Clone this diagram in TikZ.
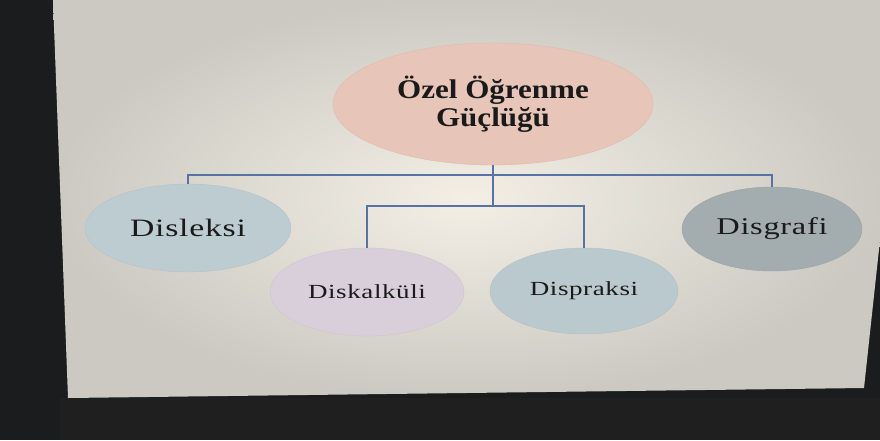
\documentclass[tikz,border=0pt]{standalone}
\usepackage{fontspec}
\usetikzlibrary{shapes.geometric}
\setmainfont{Liberation Serif}
\newfontfamily\titlefont[FakeStretch=1.15]{Liberation Serif}
\newfontfamily\labfont[FakeStretch=1.35,LetterSpace=3]{Liberation Serif}
\definecolor{bgdark}{HTML}{1A1C1E}
\definecolor{scrin}{HTML}{F3EFE5}
\definecolor{scrout}{HTML}{CCC9C2}
\definecolor{ctop}{HTML}{E8C5B9}
\definecolor{cdlx}{HTML}{BCCCD1}
\definecolor{cdgr}{HTML}{A3ADAF}
\definecolor{cdka}{HTML}{D8CFDB}
\definecolor{cdpr}{HTML}{BAC9CD}
\definecolor{cline}{HTML}{5573A6}
\definecolor{ctext}{HTML}{1A1A1A}
\tikzset{
  bubble/.style={ellipse, inner sep=0pt, text=ctext, align=center},
  conn/.style={draw=cline, line width=1.2pt}
}
\begin{document}
\begin{tikzpicture}[x=1pt,y=-1pt]
\useasboundingbox (0,0) rectangle (880,440);
\fill[bgdark] (0,0) rectangle (880,440);
\fill[black!88] (60,398) rectangle (880,440);
\shade[inner color=scrin, outer color=scrout] (53,0) -- (880,0) -- (880,240) -- (864,388) -- (68,398) -- cycle;

\node[bubble, fill=ctop, draw=ctop!95!black, minimum width=320pt, minimum height=122pt,
  font=\titlefont\bfseries\fontsize{27}{28}\selectfont] (top) at (493,104)
  {Özel Öğrenme\\ Güçlüğü};
\node[bubble, fill=cdlx, draw=cdlx!95!black, minimum width=206pt, minimum height=88pt,
  font=\labfont\fontsize{25}{28}\selectfont] (dlx) at (188,228) {Disleksi};
\node[bubble, fill=cdgr, draw=cdgr!95!black, minimum width=180pt, minimum height=84pt,
  font=\labfont\fontsize{24}{28}\selectfont] (dgr) at (772,229) {Disgrafi};
\node[bubble, fill=cdka, draw=cdka!95!black, minimum width=194pt, minimum height=88pt,
  font=\labfont\fontsize{20}{24}\selectfont] (dka) at (367,292) {Diskalküli};
\node[bubble, fill=cdpr, draw=cdpr!95!black, minimum width=188pt, minimum height=86pt,
  font=\labfont\fontsize{20}{24}\selectfont] (dpr) at (584,291) {Dispraksi};

\coordinate (b1) at (493,175);
\coordinate (b2) at (493,206);
\draw[conn] (top.south) -- (b2);
\draw[conn] (dlx.north) |- (b1) -| (dgr.north);
\draw[conn] (dka.north) |- (b2) -| (dpr.north);
\end{tikzpicture}
\end{document}
